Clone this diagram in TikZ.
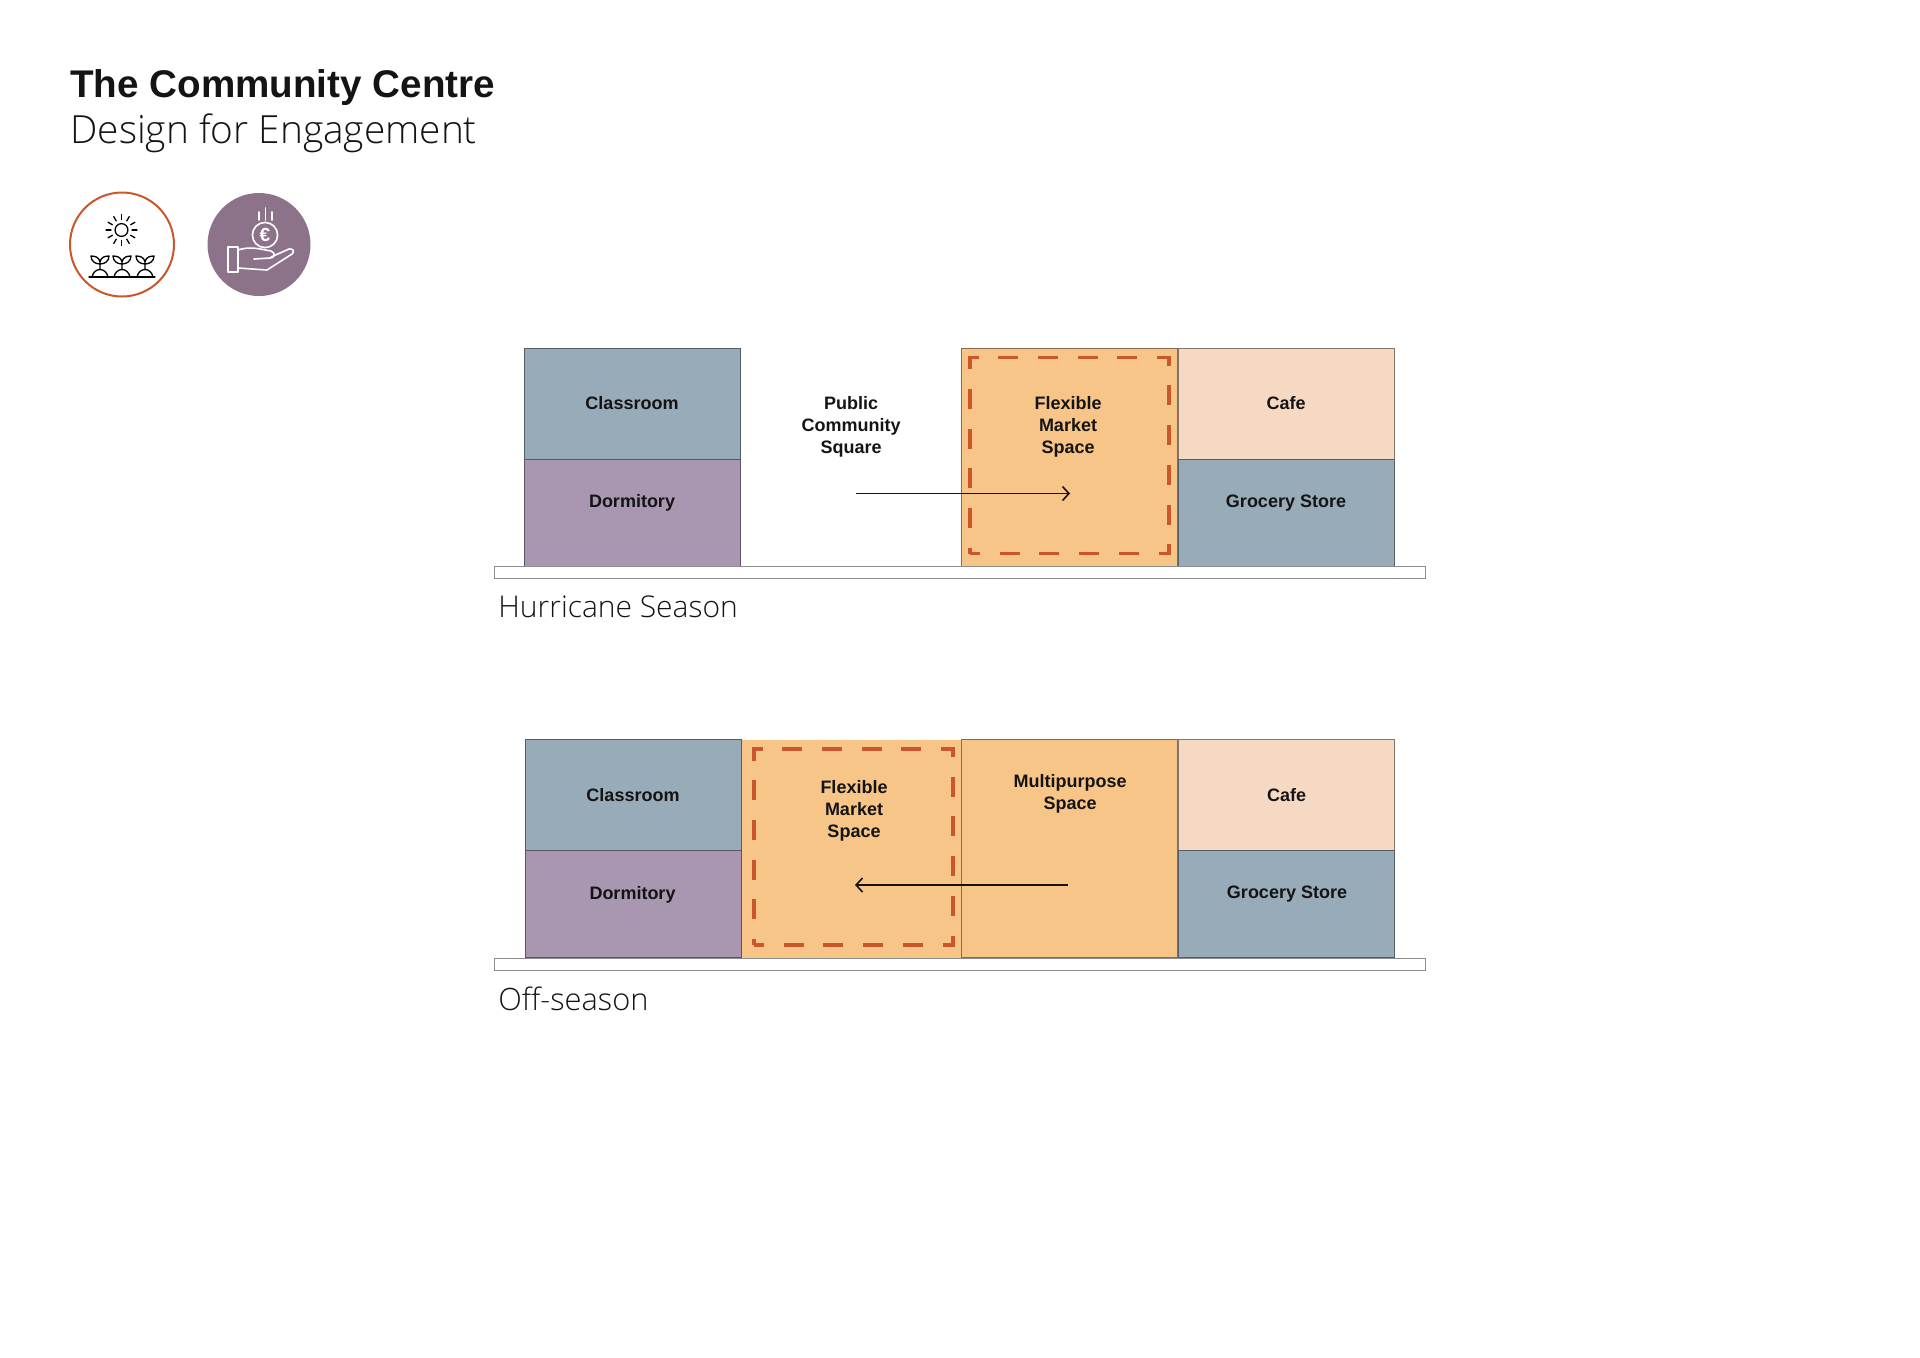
\documentclass[tikz,border=0pt]{standalone}
\usepackage{fontspec}
\setmainfont{Liberation Sans}
\newfontfamily\lightfont{Open Sans Light}
\usetikzlibrary{arrows.meta, positioning}
\definecolor{cmblue}{HTML}{98ABB9}
\definecolor{cmpurple}{HTML}{A997B1}
\definecolor{cmorange}{HTML}{F7C588}
\definecolor{cmpeach}{HTML}{F6D9C3}
\definecolor{cmrust}{HTML}{C9572B}
\definecolor{cmplum}{HTML}{8D7389}
\definecolor{cmink}{HTML}{141414}
\begin{document}
\begin{tikzpicture}[
    x=0.5pt, y=-0.5pt,
    room/.style={rectangle, draw=#1!55!black, fill=#1, minimum width=108pt,
                 inner sep=0pt, outer sep=0pt, line width=0.4pt},
    halfroom/.style={room=#1, minimum height=55.5pt, font=\fontsize{9}{11}\selectfont\bfseries, text=cmink},
    roomlabel/.style={align=center, font=\fontsize{9}{11}\selectfont\bfseries, text=cmink},
    marketbox/.style={rectangle, draw=cmrust, line width=1.7pt, dash pattern=on 10pt off 9.85pt,
                      dash phase=5pt, minimum width=99.5pt, minimum height=98pt, inner sep=0pt, outer sep=0pt},
    ground/.style={rectangle, draw=black!45, fill=white, minimum width=465.5pt, minimum height=6pt,
                   inner sep=0pt, outer sep=0pt, line width=0.5pt},
    caption/.style={anchor=base west, inner sep=0pt, font=\lightfont\fontsize{15}{18}\selectfont, text=cmink},
    arrow/.style={-{Straight Barb[length=3.2pt, width=7pt]}, line width=0.8pt, cmink},
    icon/.style={line width=0.65pt, line cap=round, line join=round}
  ]
    \useasboundingbox (0,0) rectangle (1920,1357);

    \node[anchor=base west, inner sep=0pt, font=\fontsize{19.3}{23}\selectfont\bfseries, text=cmink] (title) at (70,97) {The Community Centre};
    \node[anchor=base west, inner sep=0pt, font=\lightfont\fontsize{19.4}{23}\selectfont, text=cmink] (subtitle) at (70,143) {Design for Engagement};

    \node[circle, draw=cmrust, fill=white, line width=1pt, minimum size=104pt, inner sep=0pt, scale=0.5] (farm) at (122,244.5) {};
    \foreach \ang in {0,30,...,330}
      \draw[icon] (121.5,230) ++(\ang:10.5) -- ++(\ang:5);
    \draw[icon] (121.5,230) circle (3.2pt);
    \draw[icon] (89,277) -- (155,277);
    \foreach \px in {100,122,145}
      \draw[icon] (\px-8,277) .. controls (\px-6,267) and (\px+6,267) .. (\px+8,277)
        (\px,269) -- (\px,262)
        .. controls (\px-1,257) and (\px-5,256) .. (\px-9,256) .. controls (\px-9,261) and (\px-5,264) .. (\px,264)
        .. controls (\px+5,264) and (\px+9,261) .. (\px+9,256) .. controls (\px+5,256) and (\px+1,257) .. (\px,262);

    \node[circle, fill=cmplum, minimum size=103pt, inner sep=0pt, scale=0.5] (funds) at (259,244.5) {};
    \node[circle, draw=white, line width=0.8pt, minimum size=12.6pt, inner sep=0pt, text=white, font=\fontsize{9.5}{10}\selectfont\bfseries] (coin) at (265,235) {€};
    \draw[icon, white, line width=0.8pt] (259,212) -- (259,220) (265.5,208) -- (265.5,220) (272,212) -- (272,220);
    \draw[icon, white, line width=0.8pt] (228,247) rectangle (238,272);
    \draw[icon, white, line width=0.8pt] (238,250) .. controls (250,246) and (260,249) .. (271,251)
        .. controls (276,253) and (275,258) .. (270,258) -- (254,259)
        (271,257) -- (289,249) .. controls (293,248) and (295,252) .. (292,254)
        -- (267,270) -- (238,268);

    \node[room=cmorange, minimum height=109pt, anchor=north west] (marketa) at (961,348) {};
    \node[marketbox] (dasha) at (1069.5,455.7) {};
    \node[halfroom=cmblue, anchor=north west] (classrooma) at (524,348) {Classroom};
    \node[room=cmpurple, minimum height=53.5pt, below=0pt of classrooma] (dormitorya) {};
    \node[halfroom=cmpeach, anchor=north west] (cafea) at (1178,348) {Cafe};
    \node[room=cmblue, minimum height=53.5pt, below=0pt of cafea] (grocerya) {};
    \node[roomlabel] (dormlabela) at (632,503) {Dormitory};
    \node[roomlabel] (grocerylabela) at (1286,503) {Grocery Store};
    \node[roomlabel] (squarelabel) at (851,427) {Public\\Community\\Square};
    \node[roomlabel] (marketlabela) at (1068,427) {Flexible\\Market\\Space};
    \node[ground, anchor=north west] (grounda) at (494,566.5) {};
    \node[caption] (hurricane) at (498,617) {Hurricane Season};
    \coordinate (froma) at (856,493.5);
    \coordinate (toa) at (1070,493.5);
    \draw[arrow] (froma) -- (toa);

    \node[room=cmorange, draw=none, minimum width=110pt, minimum height=109pt, anchor=north west] (marketb) at (741.5,739.5) {};
    \node[marketbox] (dashb) at (853.5,847) {};
    \node[room=cmorange, minimum height=109pt, anchor=north west] (multipurpose) at (961.5,739.5) {};
    \node[halfroom=cmblue, anchor=north west] (classroomb) at (525,739.5) {Classroom};
    \node[room=cmpurple, minimum height=53.5pt, below=0pt of classroomb] (dormitoryb) {};
    \node[halfroom=cmpeach, anchor=north west] (cafeb) at (1178.5,739.5) {Cafe};
    \node[room=cmblue, minimum height=53.5pt, below=0pt of cafeb] (groceryb) {};
    \node[roomlabel] (dormlabelb) at (632.5,894.5) {Dormitory};
    \node[roomlabel] (grocerylabelb) at (1287,894.5) {Grocery Store};
    \node[roomlabel] (marketlabelb) at (854,811) {Flexible\\Market\\Space};
    \node[roomlabel] (multilabel) at (1070,793.5) {Multipurpose\\Space};
    \node[ground, anchor=north west] (groundb) at (494.5,958) {};
    \node[caption, font=\lightfont\fontsize{15.4}{18}\selectfont] (offseason) at (498,1010) {Off-season};
    \coordinate (fromb) at (1068,885);
    \coordinate (tob) at (855,885);
    \draw[arrow] (fromb) -- (tob);
  \end{tikzpicture}
\end{document}
